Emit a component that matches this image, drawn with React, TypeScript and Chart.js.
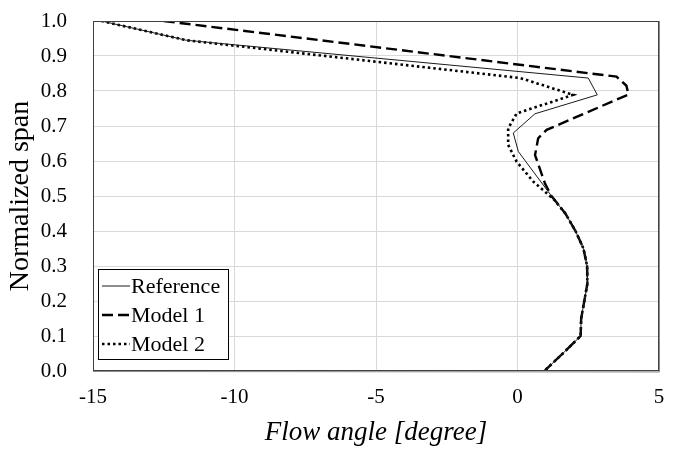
import { useEffect, useRef } from "react";
import { Chart, registerables } from "chart.js";

Chart.register(...registerables);

const FONT = "'Liberation Serif', 'Times New Roman', serif";

// Series: x = flow angle [degree], y = normalized span
const refX = [-14.7, -11.7, 2.5, 2.82, 0.62, -0.15, 0.03, 1.2, 1.69, 2.05, 2.33, 2.46, 2.47, 2.36, 2.25, 2.23, 1.6, 0.95];
const refY = [1.0, 0.945, 0.837, 0.789, 0.735, 0.68, 0.627, 0.5, 0.45, 0.4, 0.35, 0.3, 0.25, 0.2, 0.15, 0.1, 0.05, 0.0];

const m1X = [-12.5, 3.5, 3.85, 3.92, 1.03, 0.73, 0.62, 0.97, 1.2, 1.69, 2.05, 2.33, 2.46, 2.47, 2.36, 2.25, 2.23, 1.6, 0.95];
const m1Y = [1.0, 0.841, 0.815, 0.79, 0.689, 0.665, 0.617, 0.536, 0.5, 0.45, 0.4, 0.35, 0.3, 0.25, 0.2, 0.15, 0.1, 0.05, 0.0];

const m2X = [-14.7, -11.7, 0.1, 1.97, -0.03, -0.33, -0.33, -0.03, 0.56, 1.3, 1.69, 2.05, 2.33, 2.46, 2.47, 2.36, 2.25, 2.23, 1.6, 0.95];
const m2Y = [1.0, 0.945, 0.837, 0.789, 0.736, 0.693, 0.646, 0.598, 0.541, 0.489, 0.45, 0.4, 0.35, 0.3, 0.25, 0.2, 0.15, 0.1, 0.05, 0.0];

const seriesLabels = ["Reference", "Model 1", "Model 2"];
const xTitle = "Flow angle [degree]";
const yTitle = "Normalized span";

const toPts = (xs: number[], ys: number[]) => xs.map((x, i) => ({ x, y: ys[i] }));

export default function App() {
  const canvasRef = useRef<HTMLCanvasElement>(null);

  useEffect(() => {
    if (!canvasRef.current) return;

    const boxLegend = {
      id: "boxLegend",
      afterDraw(chart: any) {
        const ctx = chart.ctx as CanvasRenderingContext2D;
        const { left, top, right, bottom } = chart.chartArea;
        ctx.save();
        // plot area border
        ctx.strokeStyle = "#404040";
        ctx.lineWidth = 1;
        ctx.strokeRect(left + 0.5, top + 0.5, right - left - 1, bottom - top - 1);
        ctx.strokeStyle = "#8c8c8c";
        ctx.beginPath();
        ctx.moveTo(right + 0.5, top);
        ctx.lineTo(right + 0.5, bottom + 1);
        ctx.lineTo(left, bottom + 0.5);
        ctx.stroke();

        // legend box
        const x0 = left + 5;
        const y0 = bottom - 102;
        const w = 130;
        const h = 90;
        ctx.fillStyle = "#ffffff";
        ctx.fillRect(x0, y0, w, h);
        ctx.strokeStyle = "#000000";
        ctx.lineWidth = 1;
        ctx.strokeRect(x0 + 0.5, y0 + 0.5, w, h);
        ctx.font = `22px ${FONT}`;
        ctx.textBaseline = "middle";
        ctx.textAlign = "left";
        chart.data.datasets.forEach((ds: any, i: number) => {
          const cy = y0 + 17 + i * 29;
          ctx.save();
          ctx.strokeStyle = ds.borderColor;
          ctx.lineWidth = ds.borderWidth;
          ctx.setLineDash(ds.borderDash || []);
          ctx.beginPath();
          ctx.moveTo(x0 + 4, cy);
          ctx.lineTo(x0 + 32, cy);
          ctx.stroke();
          ctx.restore();
          ctx.fillStyle = "#000000";
          ctx.fillText(ds.label, x0 + 33, cy + 1);
        });
        ctx.restore();
      },
    };

    const chart = new Chart(canvasRef.current, {
      type: "scatter",
      data: {
        datasets: [
          {
            label: seriesLabels[0],
            data: toPts(refX, refY),
            showLine: true,
            borderColor: "#1a1a1a",
            borderWidth: 1,
            pointRadius: 0,
            fill: false,
          },
          {
            label: seriesLabels[1],
            data: toPts(m1X, m1Y),
            showLine: true,
            borderColor: "#000000",
            borderWidth: 2.4,
            borderDash: [11, 5],
            pointRadius: 0,
            fill: false,
          },
          {
            label: seriesLabels[2],
            data: toPts(m2X, m2Y),
            showLine: true,
            borderColor: "#000000",
            borderWidth: 2.6,
            borderDash: [2.5, 3],
            pointRadius: 0,
            fill: false,
          },
        ],
      },
      options: {
        animation: false,
        responsive: false,
        devicePixelRatio: 1,
        layout: { padding: { top: 21, right: 18, left: 0, bottom: 0 } },
        plugins: {
          legend: { display: false },
          tooltip: { enabled: false },
        },
        scales: {
          x: {
            type: "linear",
            min: -15,
            max: 5,
            ticks: {
              stepSize: 5,
              color: "#000",
              font: { family: FONT, size: 21 },
              padding: 14,
            },
            grid: { color: "#d9d9d9", drawTicks: false },
            border: { display: false },
            title: {
              display: true,
              text: xTitle,
              color: "#000",
              font: { family: FONT, size: 27, style: "italic" },
              padding: { top: 0, bottom: 3 },
            },
            afterFit(scale: any) {
              scale.height = 81;
              scale.paddingLeft = 0;
              scale.paddingRight = 0;
            },
          },
          y: {
            type: "linear",
            min: 0,
            max: 1,
            ticks: {
              stepSize: 0.1,
              color: "#000",
              font: { family: FONT, size: 21 },
              padding: 26,
              callback: (v: any) => Number(v).toFixed(1),
            },
            grid: { color: "#d9d9d9", drawTicks: false },
            border: { display: false },
            title: {
              display: true,
              text: yTitle,
              color: "#000",
              font: { family: FONT, size: 28 },
              padding: { top: 4, bottom: 0 },
            },
            afterFit(scale: any) {
              scale.width = 93;
              scale.paddingTop = 0;
              scale.paddingBottom = 0;
            },
          },
        },
      },
      plugins: [boxLegend],
    });

    return () => chart.destroy();
  }, []);

  return (
    <div style={{ position: "absolute", left: 0, top: 0, width: 677, height: 452, background: "#fff" }}>
      <canvas ref={canvasRef} width={677} height={452} style={{ display: "block" }} />
    </div>
  );
}
